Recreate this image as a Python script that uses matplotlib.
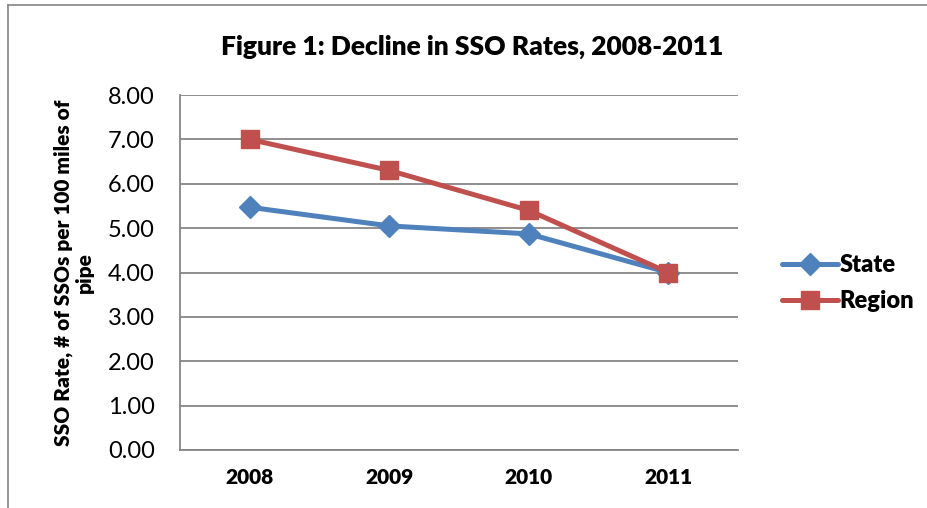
import matplotlib
matplotlib.use("Agg")
import matplotlib.pyplot as plt
from matplotlib.lines import Line2D

years = ["2008", "2009", "2010", "2011"]
state = [5.47, 5.05, 4.87, 4.00]
region = [7.00, 6.30, 5.40, 4.00]
yticks = [0, 1, 2, 3, 4, 5, 6, 7, 8]

plt.rcParams['font.family'] = ['Lato', 'DejaVu Sans']
BW = 'heavy'

fig = plt.figure(figsize=(9.28, 5.08), dpi=100)
ax = fig.add_axes([180/928, 1-450/508, 558/928, 355/508])

x = list(range(len(years)))
ax.plot(x, state, color='#4F81BD', lw=3.6, marker='D', ms=11, label='State', solid_capstyle='round')
ax.plot(x, region, color='#C0504D', lw=3.6, marker='s', ms=12.5, label='Region', solid_capstyle='round')

ax.set_xlim(-0.5, len(years) - 0.5)
ax.set_ylim(0, 8)
ax.set_yticks(yticks)
ax.set_yticklabels([f"{v:.2f}" for v in yticks], fontsize=17)
ax.set_xticks(x)
ax.set_xticklabels(years, fontsize=15, fontweight=BW)
ax.tick_params(axis='y', length=0, pad=18)
ax.tick_params(axis='x', length=0, pad=13)
ax.grid(axis='y', color='#868686', lw=1.3)
ax.set_axisbelow(True)
for s in ['top', 'right']:
    ax.spines[s].set_visible(False)
for s in ['left', 'bottom']:
    ax.spines[s].set_color('#868686')
    ax.spines[s].set_linewidth(1.3)

ax.set_ylabel("SSO Rate, # of SSOs per 100 miles of\npipe", fontsize=15, fontweight=BW,
              linespacing=1.15)
ax.yaxis.set_label_coords(-86/558, 0.5)

fig.text(472/928, 1-47/508, "Figure 1: Decline in SSO Rates, 2008-2011", ha='center', va='center',
         fontsize=19, fontweight=BW)

leg = ax.legend(loc='center left', bbox_to_anchor=(1.04, 0.47), frameon=False,
                prop={'weight': BW, 'size': 17}, handlelength=2.4, handletextpad=0.05,
                labelspacing=0.6)

# figure border (left and top)
fig.add_artist(Line2D([8/928, 8/928], [0, 1-5/508], color='#8c8c8c', lw=1.3, transform=fig.transFigure))
fig.add_artist(Line2D([8/928, 1], [1-5/508, 1-5/508], color='#8c8c8c', lw=1.3, transform=fig.transFigure))

fig.savefig("out.png", dpi=100)
